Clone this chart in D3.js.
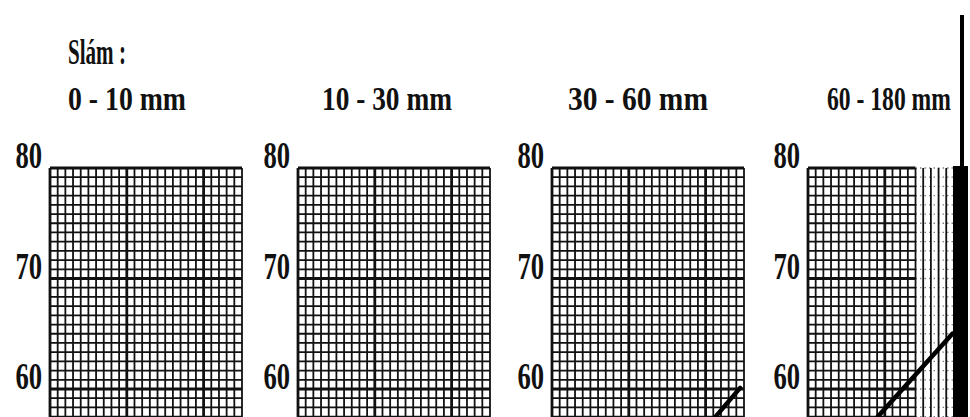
<!DOCTYPE html>
<html>
<head>
<meta charset="utf-8">
<script src="https://cdn.jsdelivr.net/npm/d3@7"></script>
<style>
  html, body { margin: 0; padding: 0; background: #fff; }
  svg { display: block; }
  text { font-family: "Liberation Serif", "DejaVu Serif", serif; fill: #111; }
</style>
</head>
<body>
<svg id="chart"></svg>
<script>
// data
const heading = 'Slám :';
const panelTitles = ['0 - 10 mm', '10 - 30 mm', '30 - 60 mm', '60 - 180 mm'];
const yTicks = [80, 70, 60];
// grid extent of each sheet in x units (the last sheet is cut by the scan edge)
const gridUnits = [25, 25, 25, 19];
const crossUnits = [25, 25, 25, 14];
// curves per panel: [x, y]
const curve0 = [];
const curve1 = [];
const curve2 = [[21.3, 57.5], [24.5, 60.1]];
const curve3 = [[9.1, 57.5], [18.8, 65.0]];
const curves = [curve0, curve1, curve2, curve3];

const W = 970, H = 417;
const panelLeft = [50, 298, 552, 808];
const UNIT_X = 7.68;
const titleX = [68, 322, 568, 827];
const titleWidth = [118, 130, 140, 124];

const svg = d3.select('#chart')
    .attr('width', W)
    .attr('height', H);

svg.append('rect')
    .attr('width', W)
    .attr('height', H)
    .attr('fill', '#fff');

const y = d3.scaleLinear()
    .domain([60, 80])
    .range([389, 168]);

// squeeze a text horizontally so that it spans the given width
function squeeze(sel, x0, y0, width) {
    const natural = sel.node().getComputedTextLength();
    sel.attr('transform', `translate(${x0},${y0}) scale(${width / natural},1)`);
}

// heading
const head = svg.append('text')
    .attr('font-size', 35)
    .attr('font-weight', 'bold')
    .text(heading);
squeeze(head, 68, 64, 58);

panelTitles.forEach((title, i) => {
    const x = d3.scaleLinear()
        .domain([0, gridUnits[i]])
        .range([panelLeft[i], panelLeft[i] + gridUnits[i] * UNIT_X]);
    const xCross = x(crossUnits[i]);
    const g = svg.append('g').attr('class', 'panel');

    // title
    const t = g.append('text')
        .attr('font-size', 34)
        .attr('font-weight', 'bold')
        .text(title);
    squeeze(t, titleX[i], 110, titleWidth[i]);

    // minor horizontal lines (12 per 10 units)
    const hLines = d3.range(0, 37).map(k => 80 - k * 10 / 12);
    g.selectAll('line.h')
        .data(hLines)
        .enter()
        .append('line')
        .attr('class', 'h')
        .attr('x1', x(0))
        .attr('x2', xCross)
        .attr('y1', d => y(d))
        .attr('y2', d => y(d))
        .attr('stroke', '#111')
        .attr('stroke-width', (d, k) => k % 12 === 0 ? 2.8 : 1.8);

    // faint dashed rows beyond the cross hatched part
    if (crossUnits[i] < gridUnits[i]) {
        g.selectAll('line.hd')
            .data(hLines)
            .enter()
            .append('line')
            .attr('class', 'hd')
            .attr('x1', xCross)
            .attr('x2', x(gridUnits[i]))
            .attr('y1', d => y(d))
            .attr('y2', d => y(d))
            .attr('stroke', '#333')
            .attr('stroke-width', 1.3)
            .attr('stroke-dasharray', '1.5,3')
            .attr('opacity', 0.6);
    }

    // vertical lines
    const vLines = d3.range(0, gridUnits[i] + 1);
    g.selectAll('line.v')
        .data(vLines)
        .enter()
        .append('line')
        .attr('class', 'v')
        .attr('x1', d => x(d))
        .attr('x2', d => x(d))
        .attr('y1', y(80))
        .attr('y2', H + 5)
        .attr('stroke', '#111')
        .attr('stroke-width', d => d % 10 === 0 && d < crossUnits[i] ? 2.8 : 1.8);

    // y tick labels
    g.selectAll('text.tick')
        .data(yTicks)
        .enter()
        .append('text')
        .attr('class', 'tick')
        .attr('transform', d => `translate(${panelLeft[i] - 8},${y(d)}) scale(0.72,1)`)
        .attr('text-anchor', 'end')
        .attr('font-size', 37)
        .attr('font-weight', 'bold')
        .text(d => d);

    // curve
    if (curves[i].length) {
        const line = d3.line()
            .x(d => x(d[0]))
            .y(d => y(d[1]));
        g.append('path')
            .datum(curves[i])
            .attr('d', line)
            .attr('fill', 'none')
            .attr('stroke', '#000')
            .attr('stroke-width', 4.5)
            .attr('stroke-linecap', 'round');
    }
});

// dark scan edge at the right
svg.append('rect')
    .attr('x', 960).attr('y', 15).attr('width', 4).attr('height', 155)
    .attr('fill', '#000');
svg.append('rect')
    .attr('x', 953).attr('y', 166).attr('width', 15).attr('height', H - 166)
    .attr('fill', '#000');
</script>
</body>
</html>
